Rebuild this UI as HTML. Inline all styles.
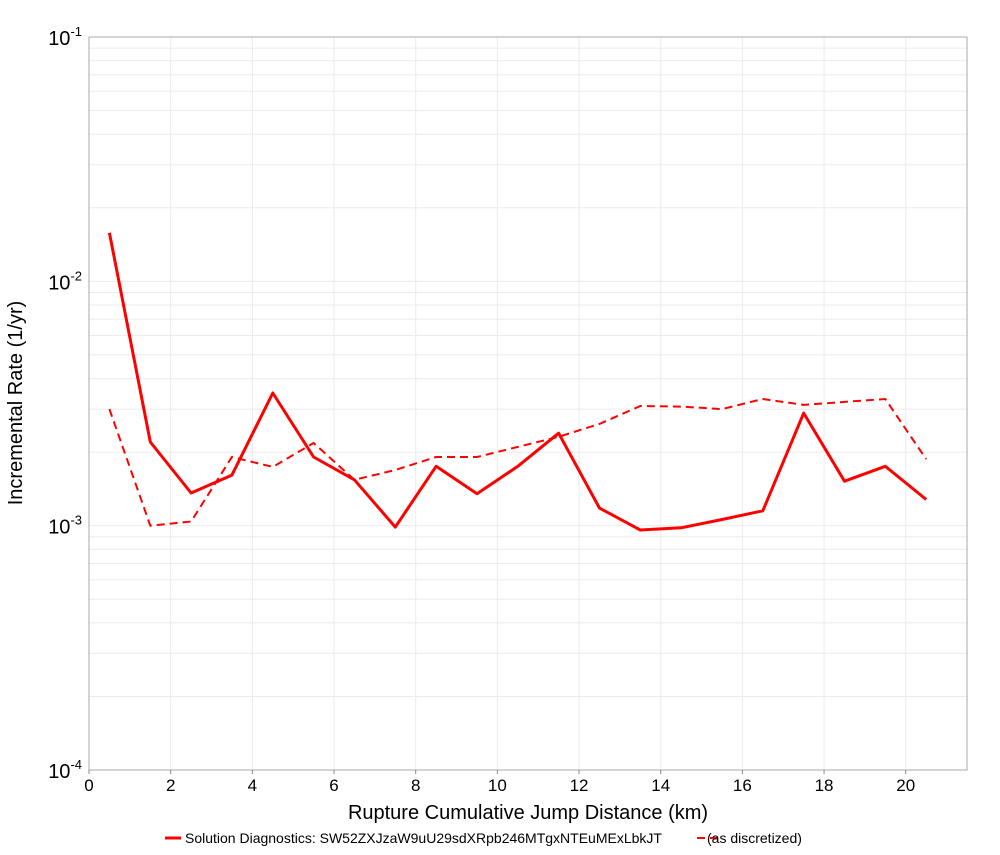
<!DOCTYPE html>
<html><head><meta charset="utf-8"><style>
body{margin:0;background:#fff;font-family:"Liberation Sans",sans-serif}
</style></head><body>
<svg id="chart" width="1000" height="850" xmlns="http://www.w3.org/2000/svg" font-family="Liberation Sans, sans-serif">
<rect x="89" y="37" width="878" height="733" fill="#fff"/>
<g id="grid"></g>
<rect x="89" y="37" width="878" height="733" fill="none" stroke="#aaa"/>
<g id="series"></g>
<g id="axes"></g>
<text x="528" y="819" font-size="20" text-anchor="middle">Rupture Cumulative Jump Distance (km)</text>
<text transform="translate(22,403) rotate(-90)" font-size="20" text-anchor="middle">Incremental Rate (1/yr)</text>
<g>
<line x1="165" y1="838" x2="181" y2="838" stroke="#f00" stroke-width="3"/>
<text x="185" y="843" font-size="14">Solution Diagnostics: SW52ZXJzaW9uU29sdXRpb246MTgxNTEuMExLbkJT</text>
<line x1="697" y1="838" x2="720" y2="838" stroke="#f00" stroke-width="2" stroke-dasharray="8,5"/>
<text x="707" y="843" font-size="14">(as discretized)</text>
</g>
</svg>
<script>
const xValues=[0.5,1.5,2.5,3.5,4.5,5.5,6.5,7.5,8.5,9.5,10.5,11.5,12.5,13.5,14.5,15.5,16.5,17.5,18.5,19.5,20.5];
const solutionRates=[0.0158,0.0022,0.00136,0.00161,0.00349,0.00191,0.00154,0.000987,0.00175,0.00135,0.00175,0.00239,0.00118,0.00096,0.00098,0.00106,0.00115,0.00289,0.00152,0.00175,0.00128];
const discretizedRates=[0.0030,0.00100,0.00104,0.00191,0.00174,0.00218,0.00154,0.00169,0.00191,0.00191,0.0021,0.00231,0.00261,0.00309,0.00307,0.0030,0.0033,0.00312,0.00321,0.0033,0.00187];
const xTicks=[0,2,4,6,8,10,12,14,16,18,20];
const yDecades=[-4,-3,-2,-1];
const L=89,R=967,T=37,B=770,XMAX=21.5;
const sx=v=>L+(v/XMAX)*(R-L);
const sy=v=>T+(-1-Math.log10(v))/3*(B-T);
const NS="http://www.w3.org/2000/svg";
function mk(tag,attrs,parent){const e=document.createElementNS(NS,tag);for(const k in attrs)e.setAttribute(k,attrs[k]);parent.appendChild(e);return e;}
const grid=document.getElementById('grid'),axes=document.getElementById('axes'),series=document.getElementById('series');
for(const d of yDecades){for(let m=1;m<10;m++){const v=m*Math.pow(10,d);if(v>0.1)break;const y=sy(v);
const g=mk('line',{x1:L,x2:R,y1:y,y2:y,stroke:'#ebebeb','stroke-width':1},grid);

}
const y=sy(Math.pow(10,d));
const t=mk('text',{x:82,y:y+8,'font-size':20,'text-anchor':'end'},axes);


t.textContent='10';
const s=mk('tspan',{dy:-9,'font-size':13},t);s.textContent=String(d);}
for(const xt of xTicks){const x=sx(xt);
const g=mk('line',{x1:x,x2:x,y1:T,y2:B,stroke:'#ebebeb'},grid);


const tk=mk('line',{x1:x,x2:x,y1:B,y2:B+4,stroke:'#888'},axes);


const t=mk('text',{x:x,y:B+21,'font-size':17,'text-anchor':'middle'},axes);


t.textContent=String(xt);}
function pts(arr){return arr.map((v,i)=>sx(xValues[i]).toFixed(1)+','+sy(v).toFixed(1)).join(' ');}
const p1=mk('polyline',{points:pts(solutionRates),fill:'none',stroke:'#f00','stroke-width':3,'stroke-linejoin':'round'},series);


const p2=mk('polyline',{points:pts(discretizedRates),fill:'none',stroke:'#f00','stroke-width':2,'stroke-dasharray':'8,5'},series);


</script>
</body></html>
